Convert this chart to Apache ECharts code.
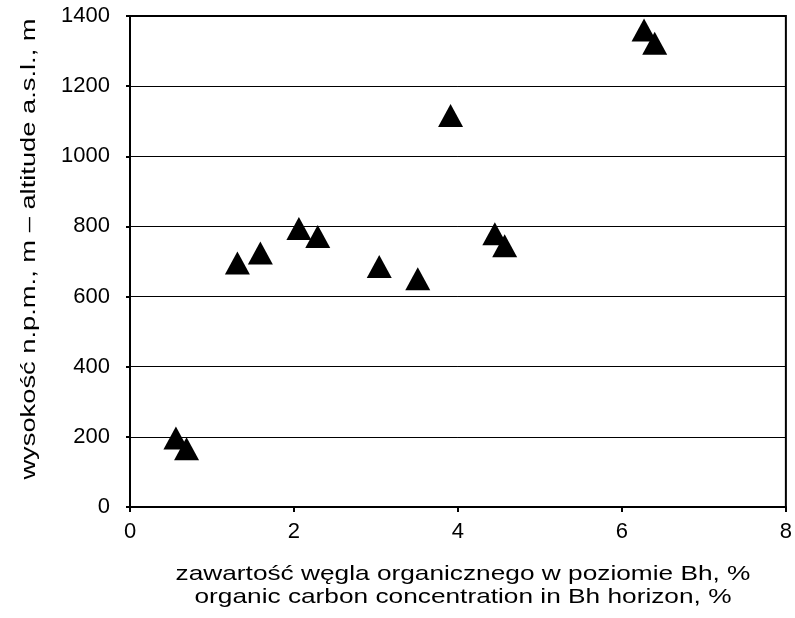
<!DOCTYPE html>
<html>
<head>
<meta charset="utf-8">
<script src="https://cdn.jsdelivr.net/npm/echarts@6/dist/echarts.min.js"></script>
<style>
  html, body { margin: 0; padding: 0; background: #fff; }
  #chart { width: 795px; height: 618px; }
</style>
</head>
<body>
<div id="chart"></div>
<script>
// Organic carbon in the Bh horizon (%) against altitude (m a.s.l.)
const carbonPct = [0.56, 0.69, 1.31, 1.59, 2.06, 2.29, 3.04, 3.51, 3.91, 4.45, 4.57, 6.27, 6.40];
const altitudeM = [197, 166, 696, 724, 794, 771, 686, 651, 1116, 779, 745, 1360, 1322];

const xTitle = 'zawartość węgla organicznego w poziomie Bh, %\norganic carbon concentration in Bh horizon, %';
const yTitle = 'wysokość n.p.m., m – altitude a.s.l., m';

const FONT = '"Liberation Sans", Arial, sans-serif';
const points = carbonPct.map((x, i) => [x, altitudeM[i]]);

const chart = echarts.init(document.getElementById('chart'), null, { renderer: 'canvas' });
chart.setOption({
  animation: false,
  backgroundColor: '#fff',
  grid: {
    left: 130, right: 7, top: 16, bottom: 111,
    show: true, borderColor: '#000', borderWidth: 2, backgroundColor: 'transparent'
  },
  xAxis: {
    type: 'value', min: 0, max: 8, interval: 2,
    axisLine: { show: true, onZero: false, lineStyle: { color: '#000', width: 2 } },
    axisTick: { show: true, inside: false, length: 5, lineStyle: { color: '#000', width: 2 } },
    axisLabel: { color: '#000', fontSize: 22, fontFamily: FONT, margin: 14, formatter: v => String(v) },
    splitLine: { show: false }
  },
  yAxis: {
    type: 'value', min: 0, max: 1400, interval: 200,
    axisLine: { show: true, lineStyle: { color: '#000', width: 2 } },
    axisTick: { show: true, inside: false, length: 4, lineStyle: { color: '#000', width: 2 } },
    axisLabel: { color: '#000', fontSize: 22, fontFamily: FONT, margin: 20, formatter: v => String(v) },
    splitLine: { show: true, lineStyle: { color: '#000', width: 1 } }
  },
  series: [{
    type: 'scatter',
    data: points,
    symbol: 'triangle',
    symbolSize: [25, 23],
    itemStyle: { color: '#000', opacity: 1 }
  }],
  graphic: [
    {
      // two-line x-axis title, set a little wide
      type: 'text', x: 463, y: 586, scaleX: 1.25,
      style: {
        text: xTitle, align: 'center', verticalAlign: 'middle',
        font: '21px ' + FONT, lineHeight: 23, fill: '#000'
      }
    },
    {
      // rotated y-axis title, stretched along its baseline
      type: 'text', x: 29, y: 249, rotation: Math.PI / 2, scaleX: 1.3,
      style: {
        text: yTitle, align: 'center', verticalAlign: 'middle',
        font: '21px ' + FONT, fill: '#000'
      }
    }
  ]
});
</script>
</body>
</html>
